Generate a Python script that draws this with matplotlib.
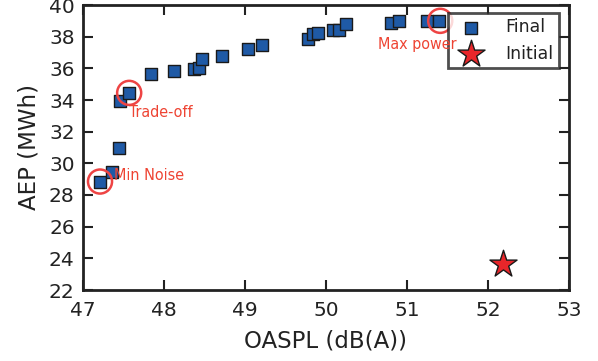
import matplotlib
matplotlib.use("Agg")
import matplotlib.pyplot as plt

final_x = [47.21, 47.36, 47.44, 47.46, 47.57, 47.84, 48.12, 48.37, 48.43, 48.47, 48.72,
           49.04, 49.21, 49.78, 49.84, 49.90, 50.09, 50.16, 50.25, 50.80, 50.90, 51.25, 51.39]
final_y = [28.85, 29.45, 30.95, 33.95, 34.45, 35.65, 35.85, 35.95, 36.0, 36.6, 36.8,
           37.25, 37.45, 37.85, 38.15, 38.25, 38.4, 38.45, 38.8, 38.85, 39.0, 39.0, 39.0]
initial_x = [52.18]
initial_y = [23.65]

highlight_x = [47.21, 47.57, 51.41]
highlight_y = [28.85, 34.45, 39.0]
highlight_labels = ["Min Noise", "Trade-off", "Max power"]
label_offsets = [(10, 4), (0, -14), (-45, -17)]

xticks = [47, 48, 49, 50, 51, 52, 53]
yticks = [22, 24, 26, 28, 30, 32, 34, 36, 38, 40]

fig = plt.figure(figsize=(5.98, 3.61), dpi=100)
ax = fig.add_axes([83/598, 1-290/361, (569-83)/598, (290-5)/361])

ax.scatter(final_x, final_y, marker='s', s=80, color='#1f5aa6', edgecolor='#1a1a1a',
           linewidth=1.0, zorder=3, label='Final')
ax.scatter(initial_x, initial_y, marker='*', s=420, color='#e8262a', edgecolor='#1a1a1a',
           linewidth=1.0, zorder=3, label='Initial')
ax.scatter(highlight_x, highlight_y, marker='o', s=300, facecolor='none',
           edgecolor='#ee4444', linewidth=1.8, zorder=4)

for hx, hy, lab, off in zip(highlight_x, highlight_y, highlight_labels, label_offsets):
    ax.annotate(lab, (hx, hy), xytext=off, textcoords='offset points',
                color='#ee4433', fontsize=11.5, family='DejaVu Sans', fontstretch='condensed',
                ha='left', va='center', zorder=6)

ax.set_xlim(47, 53)
ax.set_ylim(22, 40)
ax.set_xticks(xticks)
ax.set_yticks(yticks)
ax.tick_params(direction='in', length=7, width=1.5, labelsize=14.5, top=True, right=True,
               colors='#222222')
ax.tick_params(axis='x', pad=8)
ax.tick_params(axis='y', pad=6)
for s in ax.spines.values():
    s.set_linewidth(2.0)
    s.set_color('#222222')
ax.set_xlabel('OASPL (dB(A))', fontsize=16.5, color='#222222', labelpad=7)
ax.set_ylabel('AEP (MWh)', fontsize=16.5, color='#222222', labelpad=6)

leg = ax.legend(loc='upper right', fontsize=12.5, frameon=True, fancybox=False,
                edgecolor='#222222', borderpad=0.3, handletextpad=1.0, scatterpoints=1,
                labelspacing=0.5, borderaxespad=0, bbox_to_anchor=(0.979, 0.972))
leg.get_frame().set_linewidth(2.0)
leg.set_zorder(5)
for t in leg.get_texts():
    t.set_color('#222222')

fig.savefig('out.png', dpi=100)
